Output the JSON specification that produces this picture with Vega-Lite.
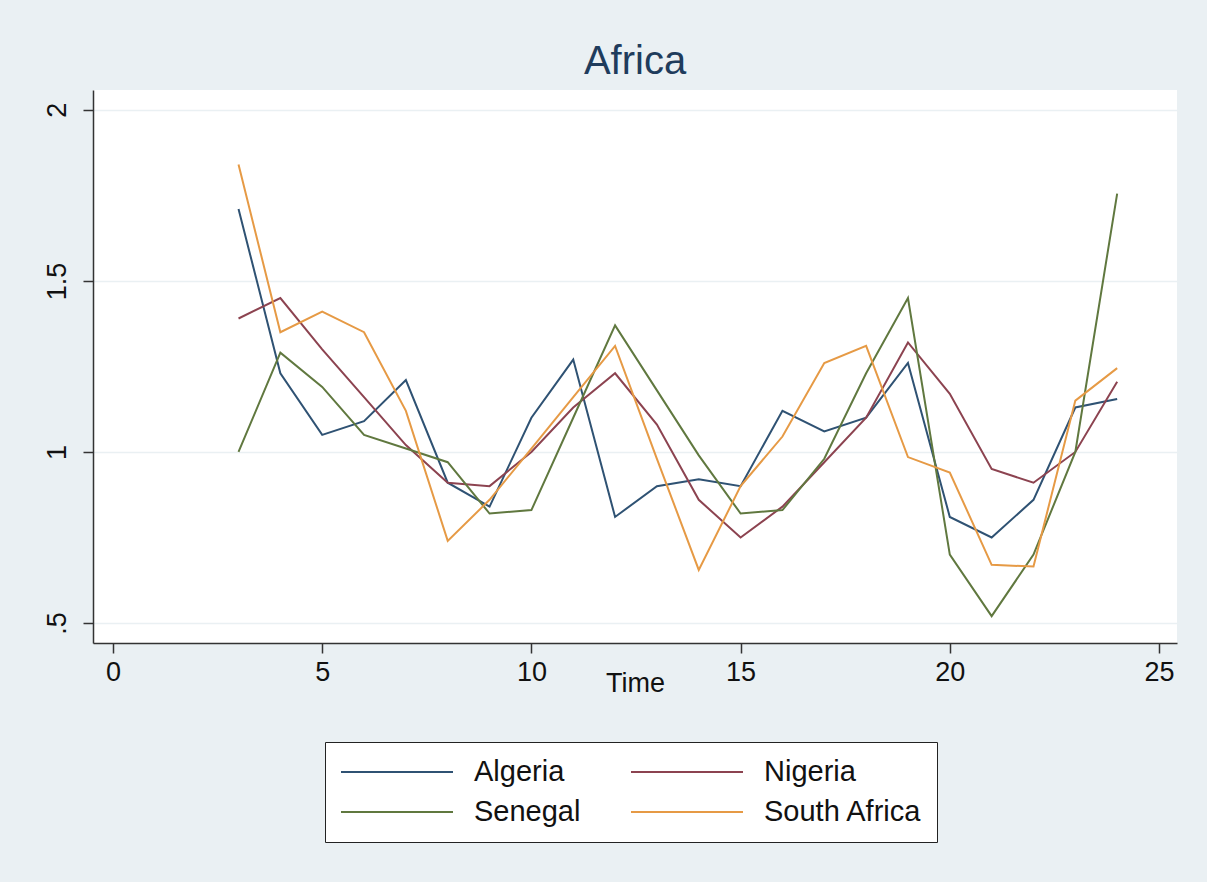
{
  "$schema": "https://vega.github.io/schema/vega-lite/v6.json",
  "width": 1084,
  "height": 553,
  "autosize": {"type": "none"},
  "padding": {"left": 93, "top": 90, "right": 30, "bottom": 239},
  "background": "#EAF0F3",
  "title": {"text": "Africa", "fontSize": 40, "font": "Liberation Sans", "fontWeight": "normal", "color": "#1f3c5c", "anchor": "middle", "offset": 8},
  "config": {
    "view": {"fill": "white", "stroke": null},
    "font": "Liberation Sans"
  },
  "data": {"values": [
    {"t":3,"c":"Algeria","v":1.71},{"t":4,"c":"Algeria","v":1.23},{"t":5,"c":"Algeria","v":1.05},{"t":6,"c":"Algeria","v":1.09},{"t":7,"c":"Algeria","v":1.21},{"t":8,"c":"Algeria","v":0.91},{"t":9,"c":"Algeria","v":0.84},{"t":10,"c":"Algeria","v":1.10},{"t":11,"c":"Algeria","v":1.27},{"t":12,"c":"Algeria","v":0.81},{"t":13,"c":"Algeria","v":0.90},{"t":14,"c":"Algeria","v":0.92},{"t":15,"c":"Algeria","v":0.90},{"t":16,"c":"Algeria","v":1.12},{"t":17,"c":"Algeria","v":1.06},{"t":18,"c":"Algeria","v":1.10},{"t":19,"c":"Algeria","v":1.26},{"t":20,"c":"Algeria","v":0.81},{"t":21,"c":"Algeria","v":0.75},{"t":22,"c":"Algeria","v":0.86},{"t":23,"c":"Algeria","v":1.13},{"t":24,"c":"Algeria","v":1.155},
    {"t":3,"c":"Nigeria","v":1.39},{"t":4,"c":"Nigeria","v":1.45},{"t":5,"c":"Nigeria","v":1.30},{"t":6,"c":"Nigeria","v":1.16},{"t":7,"c":"Nigeria","v":1.02},{"t":8,"c":"Nigeria","v":0.91},{"t":9,"c":"Nigeria","v":0.90},{"t":10,"c":"Nigeria","v":1.0},{"t":11,"c":"Nigeria","v":1.13},{"t":12,"c":"Nigeria","v":1.23},{"t":13,"c":"Nigeria","v":1.08},{"t":14,"c":"Nigeria","v":0.86},{"t":15,"c":"Nigeria","v":0.75},{"t":16,"c":"Nigeria","v":0.84},{"t":17,"c":"Nigeria","v":0.97},{"t":18,"c":"Nigeria","v":1.10},{"t":19,"c":"Nigeria","v":1.32},{"t":20,"c":"Nigeria","v":1.17},{"t":21,"c":"Nigeria","v":0.95},{"t":22,"c":"Nigeria","v":0.91},{"t":23,"c":"Nigeria","v":1.0},{"t":24,"c":"Nigeria","v":1.205},
    {"t":3,"c":"Senegal","v":1.0},{"t":4,"c":"Senegal","v":1.29},{"t":5,"c":"Senegal","v":1.19},{"t":6,"c":"Senegal","v":1.05},{"t":7,"c":"Senegal","v":1.01},{"t":8,"c":"Senegal","v":0.97},{"t":9,"c":"Senegal","v":0.82},{"t":10,"c":"Senegal","v":0.83},{"t":11,"c":"Senegal","v":1.10},{"t":12,"c":"Senegal","v":1.37},{"t":13,"c":"Senegal","v":1.18},{"t":14,"c":"Senegal","v":0.99},{"t":15,"c":"Senegal","v":0.82},{"t":16,"c":"Senegal","v":0.83},{"t":17,"c":"Senegal","v":0.98},{"t":18,"c":"Senegal","v":1.23},{"t":19,"c":"Senegal","v":1.45},{"t":20,"c":"Senegal","v":0.70},{"t":21,"c":"Senegal","v":0.52},{"t":22,"c":"Senegal","v":0.70},{"t":23,"c":"Senegal","v":1.0},{"t":24,"c":"Senegal","v":1.755},
    {"t":3,"c":"South Africa","v":1.84},{"t":4,"c":"South Africa","v":1.35},{"t":5,"c":"South Africa","v":1.41},{"t":6,"c":"South Africa","v":1.35},{"t":7,"c":"South Africa","v":1.12},{"t":8,"c":"South Africa","v":0.74},{"t":9,"c":"South Africa","v":0.86},{"t":10,"c":"South Africa","v":1.01},{"t":11,"c":"South Africa","v":1.16},{"t":12,"c":"South Africa","v":1.31},{"t":13,"c":"South Africa","v":0.98},{"t":14,"c":"South Africa","v":0.655},{"t":15,"c":"South Africa","v":0.90},{"t":16,"c":"South Africa","v":1.045},{"t":17,"c":"South Africa","v":1.26},{"t":18,"c":"South Africa","v":1.31},{"t":19,"c":"South Africa","v":0.985},{"t":20,"c":"South Africa","v":0.94},{"t":21,"c":"South Africa","v":0.67},{"t":22,"c":"South Africa","v":0.665},{"t":23,"c":"South Africa","v":1.15},{"t":24,"c":"South Africa","v":1.245}
  ]},
  "mark": {"type": "line", "strokeWidth": 2, "clip": true},
  "encoding": {
    "x": {
      "field": "t", "type": "quantitative",
      "scale": {"domain": [-0.478, 25.43], "nice": false, "zero": false},
      "axis": {
        "values": [0, 5, 10, 15, 20, 25], "title": "Time", "grid": false,
        "domainColor": "#333333", "domainWidth": 1.5, "tickColor": "#333333", "tickWidth": 1.5, "tickSize": 10,
        "labelFontSize": 27, "labelColor": "#111111", "labelPadding": 6,
        "titleFontSize": 27, "titleFontWeight": "normal", "titleColor": "#111111", "titlePadding": -15
      }
    },
    "y": {
      "field": "v", "type": "quantitative",
      "scale": {"domain": [0.4415, 2.058], "nice": false, "zero": false},
      "axis": {
        "values": [0.5, 1, 1.5, 2], "title": null, "grid": true, "gridColor": "#EAF0F3", "gridWidth": 1.5,
        "labelExpr": "datum.value == 0.5 ? '.5' : format(datum.value, '')",
        "labelAngle": -90, "labelAlign": "center", "labelBaseline": "bottom",
        "domainColor": "#333333", "domainWidth": 1.5, "tickColor": "#333333", "tickWidth": 1.5, "tickSize": 10,
        "labelFontSize": 27, "labelColor": "#111111", "labelPadding": 12
      }
    },
    "color": {
      "field": "c", "type": "nominal",
      "scale": {"domain": ["Algeria", "Nigeria", "Senegal", "South Africa"], "range": ["#2f5273", "#8c4350", "#60783f", "#e69a45"]},
      "legend": {
        "title": null, "orient": "none", "legendX": 232, "legendY": 652, "direction": "horizontal", "columns": 2,
        "symbolType": "M-1,0H7", "symbolSize": 784, "symbolStrokeWidth": 2, "symbolFillColor": "transparent",
        "labelFontSize": 29, "labelColor": "#111111", "labelOffset": 104,
        "columnPadding": 46, "rowPadding": 10, "padding": 15,
        "fillColor": "white", "strokeColor": "#222222"
      }
    }
  }
}
